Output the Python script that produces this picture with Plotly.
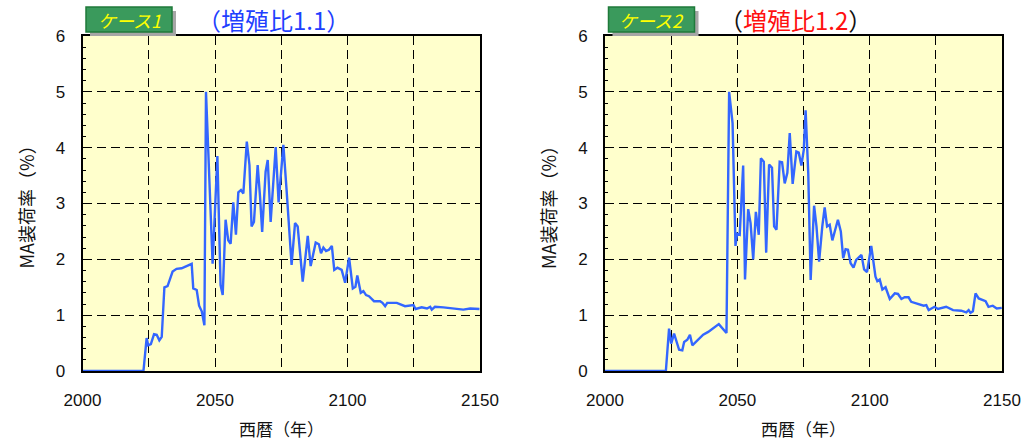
import plotly.graph_objects as go

# MA loading ratio (%) by calendar year, breeding ratio 1.1
case1_year = [2000, 2023, 2024.2, 2024.8, 2025.8, 2027, 2028, 2029, 2029.9, 2030.9,
              2032.1, 2034, 2035.5, 2037.4, 2041.2, 2041.8, 2043.1, 2044, 2045, 2046,
              2046.6, 2049.1, 2050.9, 2052.1, 2052.9, 2054, 2055, 2055.9, 2056.9, 2057.9,
              2058.8, 2059.8, 2060.7, 2062, 2063, 2063.8, 2064.7, 2066.1, 2067, 2067.8,
              2069.1, 2069.9, 2071, 2072, 2072.9, 2074, 2074.8, 2075.8, 2077, 2078.9,
              2080.2, 2081.2, 2083.1, 2085, 2086.1, 2088, 2089.2, 2090, 2090.9, 2091.9,
              2093, 2094.1, 2095, 2096.2, 2097.8, 2099.1, 2100.6, 2102, 2103, 2103.7,
              2105, 2106, 2107, 2108.1, 2110, 2112.3, 2113.2, 2114.2, 2115, 2118.6,
              2121.7, 2124.9, 2125.7, 2128, 2130, 2131.2, 2131.8, 2133, 2136.2, 2141.2,
              2143.7, 2146.3, 2149.8]
case1_ma = [0, 0, 0.59, 0.46, 0.48, 0.66, 0.65, 0.55, 0.61, 1.50,
            1.52, 1.78, 1.83, 1.84, 1.92, 1.48, 1.45, 1.17, 1.07, 0.82,
            5.0, 1.92, 3.85, 1.54, 1.36, 2.71, 2.34, 2.28, 3.02, 2.44,
            3.20, 3.24, 3.18, 4.11, 3.69, 2.59, 2.67, 3.69, 3.12, 2.49,
            3.57, 3.78, 2.67, 3.42, 4.01, 3.02, 3.55, 4.05, 3.25, 1.90,
            2.65, 2.59, 1.60, 2.42, 1.88, 2.30, 2.27, 2.11, 2.21, 2.15,
            2.17, 2.24, 1.81, 1.85, 1.81, 1.58, 2.03, 1.48, 1.51, 1.71,
            1.40, 1.43, 1.36, 1.34, 1.25, 1.25, 1.22, 1.16, 1.22, 1.22,
            1.16, 1.18, 1.11, 1.14, 1.12, 1.15, 1.10, 1.15, 1.14, 1.12,
            1.10, 1.12, 1.11]

# MA loading ratio (%) by calendar year, breeding ratio 1.2
case2_year = [2000, 2023, 2024.2, 2025, 2026.1, 2028, 2029.2, 2029.9, 2031.1, 2032.1,
              2033, 2037.1, 2039, 2041.5, 2043, 2045.9, 2046.9, 2048.2, 2049.3, 2049.9,
              2050.9, 2052.2, 2052.9, 2054.1, 2055, 2056, 2057, 2058.1, 2058.9, 2060,
              2060.9, 2062, 2063.1, 2063.9, 2064.8, 2066, 2066.9, 2067.9, 2068.9, 2069.8,
              2070.9, 2072.3, 2073.2, 2074.2, 2075.1, 2075.8, 2076.8, 2077.7, 2079, 2079.9,
              2080.9, 2082.1, 2083, 2083.9, 2084.9, 2085.9, 2087.2, 2088, 2089.1, 2090,
              2090.9, 2091.8, 2092.8, 2093.9, 2094.9, 2096.9, 2097.9, 2099, 2100.6, 2102.2,
              2102.9, 2103.8, 2104.8, 2106, 2107.6, 2109.5, 2110.7, 2112, 2113.2, 2114.7,
              2115.7, 2117.6, 2118.9, 2120.4, 2121.4, 2122.3, 2124.5, 2125.8, 2128.9, 2131.5,
              2134.6, 2136.5, 2137.4, 2138.1, 2139, 2140, 2141.2, 2143.8, 2144.9, 2146.5,
              2148, 2149.9]
case2_ma = [0, 0, 0.76, 0.49, 0.67, 0.38, 0.37, 0.52, 0.56, 0.65,
            0.46, 0.65, 0.70, 0.79, 0.84, 0.68, 5.0, 4.44, 2.24, 2.46,
            2.44, 3.68, 1.64, 2.90, 2.65, 2.0, 2.85, 2.44, 3.81, 3.75,
            2.12, 3.70, 3.64, 2.59, 2.53, 3.75, 3.74, 3.36, 3.55, 4.26,
            3.35, 3.93, 3.91, 3.68, 3.96, 4.67, 3.54, 1.63, 2.96, 2.59,
            1.96, 2.59, 2.93, 2.59, 2.62, 2.34, 2.56, 2.71, 2.50, 2.02,
            2.18, 2.17, 1.93, 1.85, 1.99, 2.08, 1.82, 1.77, 2.24, 1.69,
            1.61, 1.64, 1.46, 1.50, 1.29, 1.39, 1.38, 1.29, 1.32, 1.32,
            1.24, 1.21, 1.20, 1.17, 1.18, 1.09, 1.15, 1.11, 1.15, 1.09,
            1.08, 1.05, 1.09, 1.04, 1.07, 1.39, 1.30, 1.25, 1.15, 1.17,
            1.12, 1.13]

x_tickvals = [2000, 2025, 2050, 2075, 2100, 2125, 2150]
x_ticktext = ["2000", "", "2050", "", "2100", "", "2150"]
y_tickvals = [0, 1, 2, 3, 4, 5, 6]

case_labels = ["ケース1", "ケース2"]
ratio_titles = [
    "<span style='color:#1f3fff'>（増殖比1.1）</span>",
    "<span style='color:#111111'>（</span><span style='color:#ff1010'>増殖比1.2</span><span style='color:#111111'>）</span>",
]
x_title = "西暦（年）"
y_title = "MA装荷率（%）"

W, H = 1026, 443
LINE_COLOR = "#3366ff"
PLOT_BG = "#ffffcc"
JP_FONT = "Noto Sans CJK JP"
NUM_FONT = "Liberation Sans, Arial, sans-serif"

# pixel geometry of the two panels
panels = [(82.5, 480.0), (605.0, 1002.0)]
y_top, y_bot = 36.0, 371.0

fig = go.Figure()
fig.add_trace(go.Scatter(x=case1_year, y=case1_ma, mode="lines",
                         line=dict(color=LINE_COLOR, width=2.4), xaxis="x", yaxis="y",
                         showlegend=False))
fig.add_trace(go.Scatter(x=case2_year, y=case2_ma, mode="lines",
                         line=dict(color=LINE_COLOR, width=2.4), xaxis="x2", yaxis="y2",
                         showlegend=False))

def xaxis_cfg(left, right, anchor):
    return dict(
        domain=[left / W, right / W], anchor=anchor, range=[2000, 2150],
        automargin=False,
        tickvals=x_tickvals, ticktext=x_ticktext, ticks="", ticklabelstandoff=13,
        showgrid=True, gridcolor="#000000", gridwidth=1, griddash="9px,5px",
        showline=True, linecolor="#000000", linewidth=2, mirror=True,
        zeroline=False, fixedrange=True,
        tickfont=dict(family=NUM_FONT, size=17, color="#111111"),
    )

def yaxis_cfg(anchor):
    return dict(
        domain=[(H - y_bot) / H, (H - y_top) / H], anchor=anchor, range=[0, 6],
        automargin=False,
        tickvals=y_tickvals, ticks="inside", ticklen=5, tickcolor="#000000",
        ticklabelstandoff=12,
        minor=dict(dtick=0.2, ticks="inside", ticklen=3, tickcolor="#000000", showgrid=False),
        showgrid=True, gridcolor="#000000", gridwidth=1, griddash="9px,5px",
        showline=True, linecolor="#000000", linewidth=2, mirror=True,
        zeroline=False, fixedrange=True,
        tickfont=dict(family=NUM_FONT, size=17, color="#111111"),
    )

fig.update_layout(
    width=W, height=H,
    margin=dict(l=0, r=0, t=0, b=0, autoexpand=False),
    paper_bgcolor="#ffffff",
    plot_bgcolor=PLOT_BG,
    xaxis=xaxis_cfg(*panels[0], "y"),
    yaxis=yaxis_cfg("x"),
    xaxis2=xaxis_cfg(*panels[1], "y2"),
    yaxis2=yaxis_cfg("x2"),
)

shapes = []
annotations = []
for i, (left, right) in enumerate(panels):
    # labelled case badge with drop shadow
    bx0, by0, bx1, by1 = left + 3.5, 7, left + 89.5, 32
    shapes.append(dict(type="rect", xref="paper", yref="paper",
                       x0=(bx0 + 4) / W, x1=(bx1 + 4) / W,
                       y0=1 - (by1 + 4) / H, y1=1 - (by0 + 4) / H,
                       fillcolor="#a6a6a6", line=dict(width=0), layer="above"))
    shapes.append(dict(type="rect", xref="paper", yref="paper",
                       x0=bx0 / W, x1=bx1 / W, y0=1 - by1 / H, y1=1 - by0 / H,
                       fillcolor="#3a9a5c", line=dict(color="#1f7a3a", width=1.5),
                       layer="above"))
    annotations.append(dict(xref="paper", yref="paper", x=(bx0 + bx1) / 2 / W,
                            y=1 - 19.5 / H, text="<i>" + case_labels[i] + "</i>",
                            showarrow=False, xanchor="center", yanchor="middle",
                            font=dict(family=JP_FONT, size=18, color="#ffff00")))
    # breeding ratio heading
    annotations.append(dict(xref="paper", yref="paper", x=(left + 190.5) / W,
                            y=1 - 20 / H, text=ratio_titles[i], showarrow=False,
                            xanchor="center", yanchor="middle",
                            font=dict(family=JP_FONT, size=24)))
    # axis titles
    annotations.append(dict(xref="paper", yref="paper", x=(left + right) / 2 / W,
                            y=1 - 428 / H, text=x_title, showarrow=False,
                            xanchor="center", yanchor="middle",
                            font=dict(family=JP_FONT, size=17, color="#111111")))
    annotations.append(dict(xref="paper", yref="paper", x=(left - 57) / W,
                            y=1 - 203 / H, text=y_title, showarrow=False, textangle=-90,
                            xanchor="center", yanchor="middle",
                            font=dict(family=JP_FONT, size=18, color="#111111")))

fig.update_layout(shapes=shapes, annotations=annotations)
fig.write_html("out.html")
